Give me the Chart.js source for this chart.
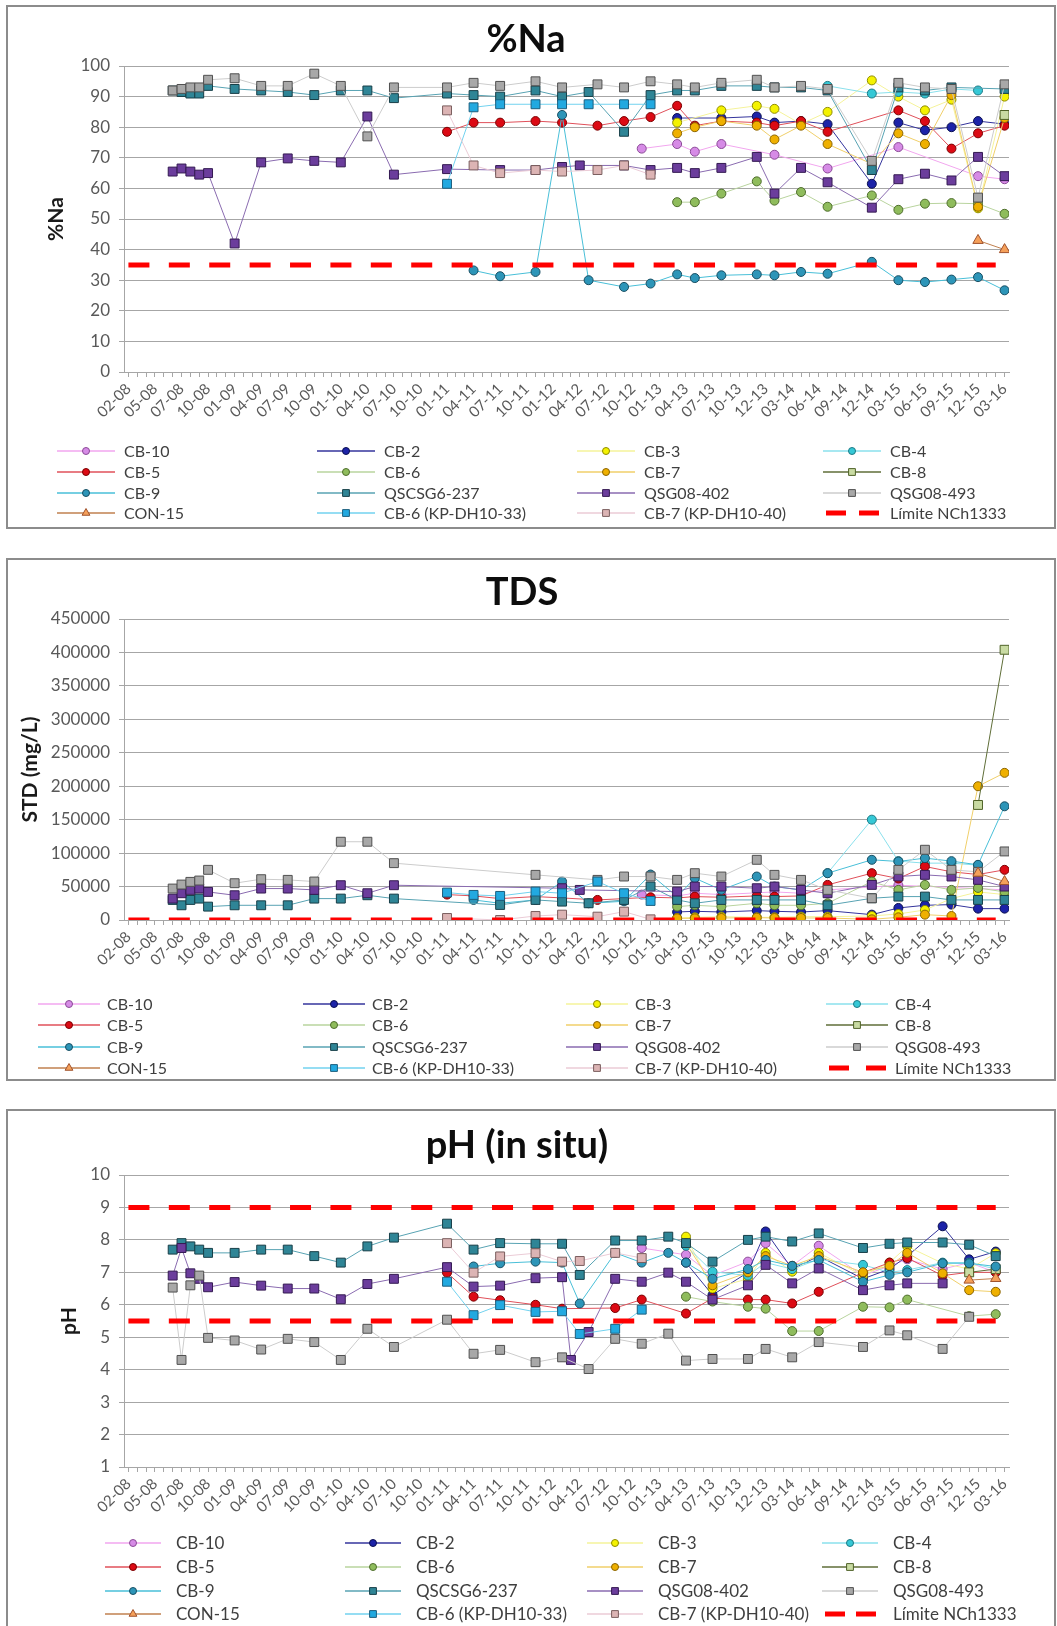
<!DOCTYPE html>
<html>
<head>
<meta charset="utf-8">
<script src="https://cdn.jsdelivr.net/npm/chart.js@4.4.1/dist/chart.umd.min.js"></script>
<style>
  html, body { margin: 0; padding: 0; background: #fff; overflow: hidden; }
  body { width: 1057px; height: 1626px; position: relative; }
  .panel { position: absolute; left: 6px; width: 1046px; border: 2px solid #8c8c8c; background: #fff; }
  .panel canvas { display: block; }
</style>
</head>
<body>
<div class="panel" style="top:5px;height:520px"><canvas id="chartNa" width="1046" height="520"></canvas></div>
<div class="panel" style="top:558px;height:519px"><canvas id="chartTds" width="1046" height="519"></canvas></div>
<div class="panel" style="top:1109px;height:521px"><canvas id="chartPh" width="1046" height="521"></canvas></div>
<script>
// Sampling dates: one category per campaign, every third one labelled
const dateLabels = ['02-08','05-08','07-08','10-08','01-09','04-09','07-09','10-09','01-10','04-10',
  '07-10','10-10','01-11','04-11','07-11','10-11','01-12','04-12','07-12','10-12','01-13','04-13',
  '07-13','10-13','12-13','03-14','06-14','09-14','12-14','03-15','06-15','09-15','12-15','03-16'];
const categoryCount = 100;

const seriesNames = ['CB-10','CB-2','CB-3','CB-4','CB-5','CB-6','CB-7','CB-8','CB-9','QSCSG6-237',
  'QSG08-402','QSG08-493','CON-15','CB-6 (KP-DH10-33)','CB-7 (KP-DH10-40)'];
const limitName = 'Límite NCh1333';

// Limit values and the campaigns they span
const naLimit = [35];
const tdsLimit = [0];
const phLimit = [9, 5.5];
const limitSpan = [0, 98];

// %Na  — [campaign index, value]
const naCB10 = [[58,73],[62,74.5],[64,72],[67,74.5],[73,71],[79,66.5],[87,73.5],[96,64],[99,63]];
const naCB2 = [[62,83],[67,83],[71,83.5],[73,81.5],[76,82],[79,81],[84,61.5],[87,81.5],[90,79],[93,80],[96,82],[99,81]];
const naCB3 = [[62,81.5],[67,85.5],[71,87],[73,86],[76,81],[79,85],[84,95.3],[87,90],[90,85.5],[93,89],[96,53.5],[99,90]];
const naCB4 = [[79,93.5],[84,91],[87,91.5],[90,91],[93,92.5],[96,92]];
const naCB5 = [[36,78.5],[39,81.5],[42,81.5],[46,82],[49,81.5],[53,80.5],[56,82],[59,83.3],[62,87],[64,80.5],[67,82],[71,81.5],[73,80.5],[76,82],[79,78.5],[87,85.5],[90,82],[93,73],[96,78],[99,80.5]];
const naCB6 = [[62,55.5],[64,55.5],[67,58.3],[71,62.3],[73,56],[76,58.8],[79,54],[84,57.7],[87,53],[90,55],[93,55.2],[96,55],[99,51.7]];
const naCB7 = [[62,78],[64,80],[67,82],[71,80.5],[73,76],[76,80.5],[79,74.5],[84,68],[87,78],[90,74.5],[93,90.5],[96,54],[99,83]];
const naCB8 = [[99,84]];
const naCB9 = [[39,33.2],[42,31.3],[46,32.7],[49,84],[52,30],[56,27.8],[59,28.9],[62,31.9],[64,30.7],[67,31.6],[71,31.9],[73,31.6],[76,32.7],[79,32.1],[84,36],[87,30],[90,29.4],[93,30.2],[96,31],[99,26.7]];
const naQSCSG237 = [[5,92],[6,91.5],[7,91],[8,91],[9,93.5],[12,92.5],[15,92],[18,91.5],[21,90.5],[24,92],[27,92],[30,89.5],[36,91],[39,90.5],[42,90],[46,92],[49,90],[52,91.5],[56,78.5],[59,90.5],[62,92],[64,92],[67,93.5],[71,93.5],[73,93],[76,93],[79,92],[84,66],[87,93],[90,92],[93,93],[99,92.5]];
const naQSG402 = [[5,65.5],[6,66.5],[7,65.5],[8,64.5],[9,65],[12,42],[15,68.5],[18,69.8],[21,69],[24,68.5],[27,83.5],[30,64.5],[36,66.3],[42,66],[46,66],[49,67],[51,67.5],[56,67.5],[59,66],[62,66.7],[64,65],[67,66.7],[71,70.3],[73,58.3],[76,66.7],[79,62],[84,53.7],[87,63],[90,64.8],[93,62.6],[96,70.3],[99,64]];
const naQSG493 = [[5,92],[6,92.5],[7,93],[8,93],[9,95.5],[12,96],[15,93.5],[18,93.5],[21,97.5],[24,93.5],[27,77],[30,93],[36,93],[39,94.5],[42,93.5],[46,95],[49,93],[53,94],[56,93],[59,95],[62,94],[64,93],[67,94.5],[71,95.5],[73,93],[76,93.5],[79,92.5],[84,69],[87,94.5],[90,93],[93,92.5],[96,57],[99,94]];
const naCON15 = [[96,43],[99,40]];
const naKP33 = [[36,61.5],[39,86.5],[42,87.5],[46,87.5],[49,87.5],[52,87.5],[56,87.5],[59,87.5]];
const naKP40 = [[36,85.5],[39,67.5],[42,65],[46,66],[49,65.5],[53,66],[56,67.5],[59,64.5]];

// TDS (mg/L)
const tdsCB10 = [[58,38000],[62,36000],[64,40000],[67,38000],[73,42000],[76,40000],[79,45000],[87,52000],[96,47000],[99,45000]];
const tdsCB2 = [[62,12000],[64,13000],[67,12000],[71,14000],[73,13000],[76,12000],[79,14000],[84,8000],[87,18000],[90,22000],[93,23000],[96,17000],[99,17000]];
const tdsCB3 = [[62,3000],[64,4000],[67,5000],[71,4000],[73,4000],[76,5000],[79,5000],[84,6000],[87,9000],[90,15000],[93,32000],[96,42000],[99,38000]];
const tdsCB4 = [[79,70000],[84,150000],[87,88000],[90,85000],[93,85000],[96,82000]];
const tdsCB5 = [[36,38000],[39,36000],[42,32000],[46,35000],[49,33000],[53,30000],[56,32000],[59,34000],[62,33000],[64,35000],[67,34000],[71,36000],[73,35000],[76,36000],[79,52500],[84,70000],[87,62000],[90,80000],[93,72000],[96,68000],[99,75000]];
const tdsCB6 = [[62,20000],[64,22000],[67,20000],[71,25000],[73,22000],[76,22000],[79,25000],[84,57500],[87,45000],[90,52500],[93,45000],[96,48000],[99,42000]];
const tdsCB7 = [[62,2500],[64,2500],[67,3000],[71,3500],[73,3000],[76,3000],[79,3000],[84,1000],[87,4000],[90,8000],[93,6000],[96,200000],[99,220000]];
const tdsCB8 = [[96,172000],[99,404000]];
const tdsCB9 = [[39,30000],[42,25000],[46,30000],[49,57500],[52,25000],[56,28000],[59,68000],[62,35000],[64,62500],[67,45000],[71,65000],[73,50000],[76,45000],[79,70000],[84,90000],[87,87500],[90,92500],[93,88000],[96,82500],[99,170000]];
const tdsQSCSG237 = [[5,30000],[6,22000],[7,30000],[8,32000],[9,20000],[12,22000],[15,22000],[18,22000],[21,32000],[24,32000],[27,37000],[30,32000],[42,22500],[46,30000],[49,27500],[52,25000],[56,30000],[59,50000],[62,30000],[64,25000],[67,30000],[71,30000],[73,30000],[76,30000],[79,22000],[84,32500],[87,35000],[90,35000],[93,30000],[96,30000],[99,30000]];
const tdsQSG402 = [[5,32000],[6,40000],[7,45000],[8,47000],[9,42000],[12,37000],[15,47000],[18,47000],[21,45000],[24,52000],[27,40000],[30,52000],[49,47500],[51,45000],[62,42500],[64,50000],[67,50000],[71,47500],[73,50000],[76,45000],[79,40000],[84,52500],[87,65000],[90,67500],[93,65000],[96,60000],[99,50000]];
const tdsQSG493 = [[5,47000],[6,53000],[7,57000],[8,59000],[9,75000],[12,55000],[15,61000],[18,60000],[21,57500],[24,117000],[27,117000],[30,85000],[46,67500],[53,60000],[56,65000],[59,65000],[62,60000],[64,70000],[67,65000],[71,90000],[73,67500],[76,60000],[79,45000],[84,32500],[87,75000],[90,105000],[93,75000],[96,72000],[99,102500]];
const tdsCON15 = [[96,70000],[99,57500]];
const tdsKP33 = [[36,41000],[39,37500],[42,36000],[46,42500],[49,40000],[53,57500],[56,40000],[59,28500]];
const tdsKP40 = [[36,3000],[42,0],[46,6000],[49,8000],[53,5000],[56,12500],[59,1000]];

// pH (in situ)
const phCB10 = [[58,7.75],[63,7.54],[66,6.9],[70,7.33],[72,7.9],[75,7.2],[78,7.82],[83,6.9],[86,7.2],[88,7.4],[92,7.1],[95,7.3],[98,7.0]];
const phCB2 = [[63,7.3],[66,6.3],[70,7.0],[72,8.26],[75,7.1],[78,7.5],[83,6.8],[86,7.1],[88,7.5],[92,8.42],[95,7.4],[98,7.64]];
const phCB3 = [[63,8.1],[66,6.5],[70,6.8],[72,7.6],[75,7.02],[78,7.6],[83,6.9],[86,7.3],[88,7.8],[92,7.28],[95,7.1],[98,7.59]];
const phCB4 = [[63,7.82],[66,7.02],[70,6.9],[72,7.3],[75,7.1],[78,7.4],[83,7.23],[86,7.0],[88,7.07],[92,7.3],[95,7.3],[98,7.1]];
const phCB5 = [[36,6.99],[39,6.25],[42,6.14],[46,6.0],[49,5.88],[55,5.9],[58,6.16],[63,5.73],[66,6.2],[70,6.16],[72,6.16],[75,6.04],[78,6.4],[83,6.99],[86,7.3],[88,7.44],[92,6.9],[95,7.0],[98,7.0]];
const phCB6 = [[63,6.25],[66,6.1],[70,5.94],[72,5.88],[75,5.19],[78,5.19],[83,5.94],[86,5.92],[88,6.16],[95,5.65],[98,5.71]];
const phCB7 = [[63,7.9],[66,6.6],[70,7.0],[72,7.5],[75,7.2],[78,7.5],[83,7.0],[86,7.2],[88,7.6],[92,6.97],[95,6.45],[98,6.4]];
const phCB8 = [[95,7.0],[98,7.1]];
const phCB9 = [[39,7.18],[42,7.28],[46,7.33],[49,7.3],[51,6.04],[55,7.6],[58,7.3],[61,7.6],[63,7.3],[66,6.8],[70,7.1],[72,7.38],[75,7.2],[78,7.38],[83,6.71],[86,6.92],[88,7.0],[92,7.28],[95,7.28],[98,7.18]];
const phQSCSG237 = [[5,7.7],[6,7.9],[7,7.8],[8,7.7],[9,7.6],[12,7.6],[15,7.7],[18,7.7],[21,7.5],[24,7.3],[27,7.8],[30,8.07],[36,8.5],[39,7.7],[42,7.9],[46,7.88],[49,7.88],[51,6.92],[55,7.98],[58,7.98],[61,8.1],[63,7.9],[66,7.33],[70,8.0],[72,8.1],[75,7.95],[78,8.2],[83,7.75],[86,7.88],[88,7.92],[92,7.92],[95,7.85],[98,7.5]];
const phQSG402 = [[5,6.9],[6,7.75],[7,6.97],[8,6.8],[9,6.54],[12,6.7],[15,6.59],[18,6.5],[21,6.5],[24,6.17],[27,6.64],[30,6.8],[36,7.16],[39,6.56],[42,6.59],[46,6.82],[49,6.85],[50,4.3],[52,5.16],[55,6.8],[58,6.71],[61,6.99],[63,6.71],[66,6.16],[70,6.6],[72,7.23],[75,6.66],[78,7.12],[83,6.45],[86,6.6],[88,6.66],[92,6.66]];
const phQSG493 = [[5,6.53],[6,4.3],[7,6.6],[8,6.9],[9,4.98],[12,4.9],[15,4.62],[18,4.95],[21,4.85],[24,4.3],[27,5.26],[30,4.7],[36,5.54],[39,4.49],[42,4.61],[46,4.23],[49,4.38],[52,4.02],[55,4.95],[58,4.8],[61,5.11],[63,4.28],[66,4.33],[70,4.33],[72,4.64],[75,4.38],[78,4.85],[83,4.7],[86,5.21],[88,5.06],[92,4.64],[95,5.63]];
const phCON15 = [[95,6.76],[98,6.81]];
const phKP33 = [[36,6.71],[39,5.68],[42,5.99],[46,5.78],[49,5.8],[51,5.1],[55,5.26],[58,5.85]];
const phKP40 = [[36,7.9],[39,6.99],[42,7.49],[46,7.59],[49,7.33],[51,7.35],[55,7.6],[58,7.44]];

// Marker and line styling per well, in legend order
const seriesStyle = [
  { fill: '#d68be6', edge: '#8a4a96', line: '#f2a6ef', shape: 'circle' },
  { fill: '#1c23a8', edge: '#0a0f50', line: '#34349c', shape: 'circle' },
  { fill: '#f4f200', edge: '#8d8a00', line: '#f5f39a', shape: 'circle' },
  { fill: '#35c8d6', edge: '#1d7a85', line: '#8ae0ec', shape: 'circle' },
  { fill: '#dc0a14', edge: '#7a0000', line: '#e0505a', shape: 'circle' },
  { fill: '#8fbc5c', edge: '#4e6d2c', line: '#b9d49e', shape: 'circle' },
  { fill: '#efb000', edge: '#8a6400', line: '#f0cf6a', shape: 'circle' },
  { fill: '#c9dba3', edge: '#4f6228', line: '#5f6e38', shape: 'rect' },
  { fill: '#2d95b8', edge: '#184e62', line: '#48bfd8', shape: 'circle' },
  { fill: '#2f8596', edge: '#183f48', line: '#58a3b3', shape: 'rect' },
  { fill: '#6b3d9c', edge: '#341a52', line: '#8a6bb0', shape: 'rect' },
  { fill: '#a8a8a8', edge: '#505050', line: '#cccccc', shape: 'rect' },
  { fill: '#f5a05a', edge: '#a0522d', line: '#c0804f', shape: 'triangle' },
  { fill: '#22a9e0', edge: '#1d5f7e', line: '#72d2ef', shape: 'rect' },
  { fill: '#dcb4b4', edge: '#7a5e5e', line: '#ebcbd6', shape: 'rect' }
];
const markerRadius = { circle: 4.5, rect: 6.3, triangle: 6 };
const legendRadius = { circle: 3.5, rect: 4.8, triangle: 4.5 };

Chart.defaults.font.family = 'Lato, "Open Sans", sans-serif';
Chart.defaults.color = '#595959';

// Title and grid legend drawn onto each panel
function panelDecor(cfg) {
  return {
    id: 'panelDecor',
    afterDraw(chart) {
      const ctx = chart.ctx;
      ctx.save();
      ctx.font = 'bold 38px Lato, sans-serif';
      ctx.fillStyle = '#0d0d0d';
      ctx.textAlign = 'center';
      ctx.textBaseline = 'alphabetic';
      ctx.fillText(cfg.title, cfg.titleX, cfg.titleBase);

      const entries = chart.data.datasets.filter(d => !d.hideInLegend);
      ctx.font = cfg.legendFont + 'px Lato, sans-serif';
      ctx.textAlign = 'left';
      ctx.textBaseline = 'middle';
      entries.forEach((ds, k) => {
        const x0 = cfg.legendCols[k % 4];
        const y = cfg.legendRows[Math.floor(k / 4)];
        const len = cfg.legendLen;
        ctx.setLineDash([]);
        if (ds.isLimit) {
          ctx.strokeStyle = ds.borderColor;
          ctx.lineWidth = 5;
          ctx.beginPath();
          ctx.moveTo(x0 + 3, y); ctx.lineTo(x0 + 23, y);
          ctx.moveTo(x0 + len - 22, y); ctx.lineTo(x0 + len - 2, y);
          ctx.stroke();
        } else {
          ctx.strokeStyle = ds.borderColor;
          ctx.lineWidth = 1.5;
          ctx.beginPath();
          ctx.moveTo(x0, y); ctx.lineTo(x0 + len, y);
          ctx.stroke();
          ctx.fillStyle = ds.pointBackgroundColor;
          ctx.strokeStyle = ds.pointBorderColor;
          ctx.lineWidth = 1;
          Chart.helpers.drawPoint(ctx, { pointStyle: ds.pointStyle, radius: legendRadius[ds.pointStyle], borderWidth: 1, rotation: 0 }, x0 + len / 2, y);
        }
        ctx.fillStyle = '#3f3f3f';
        ctx.fillText(ds.label, x0 + cfg.textGap, y + 1);
      });
      ctx.restore();
    }
  };
}

function makePanel(cfg) {
  const datasets = cfg.series.map((pts, i) => {
    const st = seriesStyle[i];
    return {
      label: seriesNames[i],
      data: pts.map(p => ({ x: p[0], y: p[1] })),
      borderColor: st.line,
      backgroundColor: st.fill,
      borderWidth: 1,
      pointStyle: st.shape,
      pointRadius: markerRadius[st.shape],
      pointBackgroundColor: st.fill,
      pointBorderColor: st.edge,
      pointBorderWidth: 1,
      order: 100 - i
    };
  });
  cfg.limits.forEach((v, j) => {
    datasets.push({
      label: limitName,
      data: limitSpan.map(x => ({ x, y: v })),
      borderColor: '#ff0000',
      backgroundColor: '#ff0000',
      borderWidth: 5,
      borderDash: [21, 19.4],
      borderCapStyle: 'butt',
      pointRadius: 0,
      order: 0,
      isLimit: true,
      hideInLegend: j > 0
    });
  });

  const catTicks = Array.from({ length: categoryCount }, (_, i) => i);

  return new Chart(document.getElementById(cfg.canvas), {
    type: 'line',
    data: { datasets },
    plugins: [panelDecor(cfg)],
    options: {
      responsive: false,
      animation: false,
      events: [],
      layout: { padding: { top: cfg.plotTop, left: 0, right: 45, bottom: cfg.padBottom } },
      plugins: { legend: { display: false }, tooltip: { enabled: false }, title: { display: false } },
      scales: {
        x: {
          type: 'linear',
          bounds: 'data',
          min: -0.5,
          max: categoryCount - 0.5,
          afterBuildTicks: s => { s.ticks = catTicks.map(v => ({ value: v })); },
          afterFit: s => { s.height = 60; },
          ticks: {
            autoSkip: false, minRotation: 45, maxRotation: 45, padding: 3,
            color: '#595959', font: { size: 15 },
            callback: v => (v % 3 === 0 ? dateLabels[v / 3] : '')
          },
          grid: { drawOnChartArea: false, drawTicks: true, tickLength: 5, color: '#a6a6a6' },
          border: { color: '#a6a6a6' }
        },
        y: {
          type: 'linear',
          bounds: 'data',
          min: cfg.yMin, max: cfg.yMax,
          afterFit: s => { s.width = 116; },
          ticks: { stepSize: cfg.yStep, maxTicksLimit: 20, padding: 9, color: '#595959', font: { size: 17 },
                   callback: v => String(v) },
          grid: { color: '#a6a6a6', tickLength: 5, drawTicks: true },
          border: { color: '#a6a6a6' },
          title: { display: true, text: cfg.yTitle, color: '#1a1a1a',
                   font: { size: 21, weight: 'bold' }, padding: { top: cfg.yTitlePad, bottom: 0 } }
        }
      }
    }
  });
}

makePanel({
  canvas: 'chartNa', title: '%Na', titleX: 518, titleBase: 45,
  yTitle: '%Na', yTitlePad: 36, yMin: 0, yMax: 100, yStep: 10,
  plotTop: 59, padBottom: 95,
  series: [naCB10, naCB2, naCB3, naCB4, naCB5, naCB6, naCB7, naCB8, naCB9, naQSCSG237, naQSG402, naQSG493, naCON15, naKP33, naKP40],
  limits: naLimit,
  legendCols: [49, 309, 569, 815], legendRows: [444, 465, 486, 506], legendLen: 58, textGap: 67, legendFont: 16
});

makePanel({
  canvas: 'chartTds', title: 'TDS', titleX: 514, titleBase: 45,
  yTitle: 'STD (mg/L)', yTitlePad: 10, yMin: 0, yMax: 450000, yStep: 50000,
  plotTop: 59, padBottom: 99,
  series: [tdsCB10, tdsCB2, tdsCB3, tdsCB4, tdsCB5, tdsCB6, tdsCB7, tdsCB8, tdsCB9, tdsQSCSG237, tdsQSG402, tdsQSG493, tdsCON15, tdsKP33, tdsKP40],
  limits: tdsLimit,
  legendCols: [30, 295, 558, 818], legendRows: [444, 465, 487, 508], legendLen: 62, textGap: 69, legendFont: 16
});

makePanel({
  canvas: 'chartPh', title: 'pH (in situ)', titleX: 509, titleBase: 47,
  yTitle: 'pH', yTitlePad: 49, yMin: 1, yMax: 10, yStep: 1,
  plotTop: 64, padBottom: 105,
  series: [phCB10, phCB2, phCB3, phCB4, phCB5, phCB6, phCB7, phCB8, phCB9, phQSCSG237, phQSG402, phQSG493, phCON15, phKP33, phKP40],
  limits: phLimit,
  legendCols: [97, 337, 579, 814], legendRows: [432, 456, 480, 503], legendLen: 56, textGap: 71, legendFont: 17
});
</script>
</body>
</html>
